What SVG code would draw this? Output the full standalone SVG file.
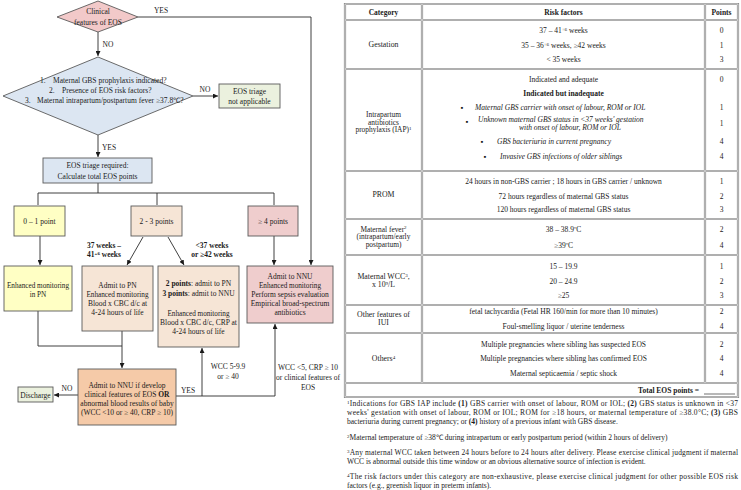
<svg xmlns="http://www.w3.org/2000/svg" xmlns:xlink="http://www.w3.org/1999/xlink" width="741" height="490" viewBox="0 0 741 490">
<style>
.t{font-family:"Liberation Serif","Times New Roman",serif;font-size:7.5px;fill:#1a1a1a;text-anchor:middle}
.s{text-anchor:start}
.e{text-anchor:end}
.b{font-weight:bold}
.i{font-style:italic}
.c{font-size:7.8px}
.c2{font-size:7.4px}
.n7{font-size:7.2px}
.nd{stroke:#5a5a5a;stroke-width:0.9}
.pink{fill:#f2c9c9}
.blue{fill:#dce6f2}
.green{fill:#ebf1de}
.yel{fill:#ffffc4}
.peach{fill:#f6e5d6}
.rose{fill:#efcdcd}
.tan{fill:#f5caa8}
.ln{stroke:#2a2a2a;stroke-width:0.9;fill:none}
.g1{stroke:#8e8e8e;stroke-width:2.2;fill:none}
.g2{stroke:#ffffff;stroke-width:0.6;fill:none}
</style>
<defs>
<marker id="ah" viewBox="0 0 6 6" refX="6" refY="3" markerWidth="5" markerHeight="5" orient="auto" markerUnits="userSpaceOnUse"><path d="M0,0 L6,3 L0,6 z" fill="#1a1a1a"/></marker>
<path id="grid" d="M345,4 H738 V397 H345 Z M345,20 H738 M345,69 H738 M345,171 H738 M345,219 H738 M345,255 H738 M345,305 H738 M345,333 H738 M345,383 H738 M422,4 V383 M705,4 V383"/>
</defs>
<rect width="741" height="490" fill="#ffffff"/>

<g id="connectors">
<path class="ln" d="M138,17 H311 V265" marker-end="url(#ah)"/>
<path class="ln" d="M98,32 V56" marker-end="url(#ah)"/>
<path class="ln" d="M193,96 H218" marker-end="url(#ah)"/>
<path class="ln" d="M98,135 V157" marker-end="url(#ah)"/>
<path class="ln" d="M98,183 V193 M38,205 V193 H274 V205 M157,193 V205"/>
<path class="ln" d="M40,236 V265" marker-end="url(#ah)"/>
<path class="ln" d="M143,237 L127,265" marker-end="url(#ah)"/>
<path class="ln" d="M168,237 L184,265" marker-end="url(#ah)"/>
<path class="ln" d="M274,236 V265" marker-end="url(#ah)"/>
<path class="ln" d="M38,311 V346 H122"/>
<path class="ln" d="M122,331 V368" marker-end="url(#ah)"/>
<path class="ln" d="M78,395 H54" marker-end="url(#ah)"/>
<path class="ln" d="M176,396 H275"/>
<path class="ln" d="M202,396 V348" marker-end="url(#ah)"/>
<path class="ln" d="M275,396 V324" marker-end="url(#ah)"/>
</g>

<g id="connector-labels">
<text class="t" x="161" y="13">YES</text>
<text class="t" x="108" y="47">NO</text>
<text class="t" x="205" y="92">NO</text>
<text class="t" x="109" y="150">YES</text>
<text class="t b" x="104" y="248">37 weeks –</text>
<text class="t b" x="104" y="257">41<tspan font-size="5" dy="-2.5">+6</tspan><tspan dy="2.5"> weeks</tspan></text>
<text class="t b" x="212" y="248">&lt;37 weeks</text>
<text class="t b" x="212" y="257">or ≥42 weeks</text>
<text class="t" x="67" y="391">NO</text>
<text class="t" x="188" y="393">YES</text>
<text class="t" x="228" y="369">WCC 5-9.9</text>
<text class="t" x="228" y="379">or ≥ 40</text>
<text class="t" x="308" y="370">WCC &lt;5, CRP ≥ 10</text>
<text class="t" x="308" y="380">or clinical features of</text>
<text class="t" x="308" y="390">EOS</text>
</g>

<g id="n-clinical">
<polygon class="nd pink" points="98,1 138,17 98,32 57,17"/>
<text class="t" x="98" y="14">Clinical</text>
<text class="t" x="98" y="25">features of EOS</text>
</g>

<g id="n-question">
<polygon class="nd blue" points="98,57 193,96 98,135 3,96"/>
<text class="t s" x="40" y="83">1.<tspan x="53">Maternal GBS prophylaxis indicated?</tspan></text>
<text class="t s" x="49" y="93">2.<tspan x="62">Presence of EOS risk factors?</tspan></text>
<text class="t s" x="25" y="103">3.<tspan x="37">Maternal intrapartum/postpartum fever ≥37.8℃?</tspan></text>
</g>

<g id="n-notapplicable">
<rect class="nd green" x="219" y="84" width="61" height="24"/>
<text class="t" x="249.5" y="94">EOS triage</text>
<text class="t" x="249.5" y="104">not applicable</text>
</g>

<g id="n-triage">
<rect class="nd blue" x="43" y="158" width="109" height="25"/>
<text class="t" x="97.5" y="168">EOS triage required:</text>
<text class="t" x="97.5" y="179">Calculate total EOS points</text>
</g>

<g id="n-p01">
<rect class="nd yel" x="14" y="206" width="51" height="30"/>
<text class="t" x="39.5" y="224">0 – 1 point</text>
</g>

<g id="n-p23">
<rect class="nd peach" x="131" y="206" width="51" height="30"/>
<text class="t" x="156.5" y="224">2 - 3 points</text>
</g>

<g id="n-p4">
<rect class="nd rose" x="248" y="206" width="50" height="30"/>
<text class="t" x="273" y="224">≥ 4 points</text>
</g>

<g id="n-pn">
<rect class="nd yel" x="4" y="266" width="68" height="45"/>
<text class="t n7" x="38" y="288">Enhanced monitoring</text>
<text class="t n7" x="38" y="297">in PN</text>
</g>

<g id="n-admitpn">
<rect class="nd peach" x="82" y="266" width="71" height="65"/>
<text class="t" x="117.5" y="288">Admit to PN</text>
<text class="t n7" x="117.5" y="297">Enhanced monitoring</text>
<text class="t" x="117.5" y="306">Blood x CBC d/c at</text>
<text class="t" x="117.5" y="315">4-24 hours of life</text>
</g>

<g id="n-points">
<rect class="nd peach" x="158" y="266" width="81" height="81"/>
<text class="t" x="198.5" y="286"><tspan class="b">2 points</tspan>:  admit to PN</text>
<text class="t" x="198.5" y="296"><tspan class="b">3 points</tspan>:  admit to NNU</text>
<text class="t n7" x="198.5" y="316">Enhanced monitoring</text>
<text class="t" x="198.5" y="325">Blood x CBC d/c, CRP at</text>
<text class="t" x="198.5" y="334">4-24 hours of life</text>
</g>

<g id="n-nnu">
<rect class="nd rose" x="247" y="266" width="86" height="57"/>
<text class="t" x="290" y="279">Admit to NNU</text>
<text class="t n7" x="290" y="288">Enhanced monitoring</text>
<text class="t" x="290" y="297">Perform sepsis evaluation</text>
<text class="t" x="290" y="306">Empirical broad-spectrum</text>
<text class="t" x="290" y="315">antibiotics</text>
</g>

<g id="n-admitif">
<rect class="nd tan" x="78" y="369" width="98" height="56"/>
<text class="t" x="127" y="388">Admit to NNU if develop</text>
<text class="t" x="127" y="397">clinical features of EOS <tspan class="b">OR</tspan></text>
<text class="t" x="127" y="406">abnormal blood results of baby</text>
<text class="t" x="127" y="415">(WCC &lt;10 or ≥ 40, CRP ≥ 10)</text>
</g>

<g id="n-discharge">
<rect class="nd green" x="18" y="387" width="35" height="15"/>
<text class="t" x="35.5" y="397.5">Discharge</text>
</g>

<g id="risk-table">
<use xlink:href="#grid" class="g1"/>
<use xlink:href="#grid" class="g2"/>
<text class="t b" x="383.5" y="15">Category</text>
<text class="t b" x="563.5" y="15">Risk factors</text>
<text class="t b" x="721.5" y="15">Points</text>

<text class="t c" x="383.5" y="47">Gestation</text>
<text class="t" x="563.5" y="33">37 – 41<tspan font-size="5" dy="-2.5">+6</tspan><tspan dy="2.5"> weeks</tspan></text>
<text class="t" x="563.5" y="48">35 – 36<tspan font-size="5" dy="-2.5">+6</tspan><tspan dy="2.5"> weeks, ≥42 weeks</tspan></text>
<text class="t" x="563.5" y="62">&lt; 35 weeks</text>
<text class="t" x="721.5" y="33">0</text>
<text class="t" x="721.5" y="48">1</text>
<text class="t" x="721.5" y="62">3</text>

<text class="t c2" x="383.5" y="117">Intrapartum</text>
<text class="t c2" x="383.5" y="124.5">antibiotics</text>
<text class="t c2" x="383.5" y="132">prophylaxis (IAP)<tspan font-size="5" dy="-2.5">1</tspan></text>
<text class="t" x="563.5" y="82">Indicated and adequate</text>
<text class="t b" x="563.5" y="96">Indicated but inadequate</text>
<text class="t" x="462" y="110">▪</text>
<text class="t i s" x="475" y="110">Maternal GBS carrier with onset of labour, ROM or IOL</text>
<text class="t" x="467" y="124">▪</text>
<text class="t i s" x="478" y="122">Unknown maternal GBS status in &lt;37 weeks' gestation</text>
<text class="t i" x="570" y="130">with onset of labour, ROM or IOL</text>
<text class="t" x="482" y="144">▪</text>
<text class="t i s" x="497" y="144">GBS bacteriuria in current pregnancy</text>
<text class="t" x="485" y="159">▪</text>
<text class="t i s" x="500" y="159">Invasive GBS infections of older siblings</text>
<text class="t" x="721.5" y="82">0</text>
<text class="t" x="721.5" y="110">1</text>
<text class="t" x="721.5" y="126">1</text>
<text class="t" x="721.5" y="144">4</text>
<text class="t" x="721.5" y="159">4</text>

<text class="t c" x="383.5" y="197">PROM</text>
<text class="t" x="563.5" y="184">24 hours in non-GBS carrier ; 18 hours in GBS carrier / unknown</text>
<text class="t" x="563.5" y="199">72 hours regardless of maternal GBS status</text>
<text class="t" x="563.5" y="212">120 hours regardless of maternal GBS status</text>
<text class="t" x="721.5" y="184">1</text>
<text class="t" x="721.5" y="199">2</text>
<text class="t" x="721.5" y="212">3</text>

<text class="t c2" x="383.5" y="231.5">Maternal fever<tspan font-size="5" dy="-2.5">2</tspan></text>
<text class="t c2" x="383.5" y="239">(intrapartum/early</text>
<text class="t c2" x="383.5" y="246.5">postpartum)</text>
<text class="t" x="563.5" y="232">38 – 38.9ºC</text>
<text class="t" x="563.5" y="248">≥39ºC</text>
<text class="t" x="721.5" y="232">2</text>
<text class="t" x="721.5" y="248">4</text>

<text class="t c" x="383.5" y="279">Maternal WCC<tspan font-size="5" dy="-2.5">3</tspan><tspan dy="2.5">,</tspan></text>
<text class="t c" x="383.5" y="287">x 10<tspan font-size="5" dy="-2.5">9</tspan><tspan dy="2.5">/L</tspan></text>
<text class="t" x="563.5" y="269">15 – 19.9</text>
<text class="t" x="563.5" y="284">20 – 24.9</text>
<text class="t" x="563.5" y="298">≥25</text>
<text class="t" x="721.5" y="269">1</text>
<text class="t" x="721.5" y="284">2</text>
<text class="t" x="721.5" y="298">3</text>

<text class="t c" x="383.5" y="317">Other features of</text>
<text class="t c" x="383.5" y="324.5">IUI</text>
<text class="t" x="563.5" y="314">fetal tachycardia (Fetal HR 160/min for more than 10 minutes)</text>
<text class="t" x="563.5" y="329">Foul-smelling liquor / uterine tenderness</text>
<text class="t" x="721.5" y="314">2</text>
<text class="t" x="721.5" y="329">4</text>

<text class="t c" x="383.5" y="361">Others<tspan font-size="5" dy="-2.5">4</tspan></text>
<text class="t" x="563.5" y="347">Multiple pregnancies where sibling has suspected EOS</text>
<text class="t" x="563.5" y="361">Multiple pregnancies where sibling has confirmed EOS</text>
<text class="t" x="563.5" y="376">Maternal septicaemia / septic shock</text>
<text class="t" x="721.5" y="347">2</text>
<text class="t" x="721.5" y="361">4</text>
<text class="t" x="721.5" y="376">4</text>

<text class="t b e" x="699" y="393">Total EOS points =</text>
<line x1="704" y1="394" x2="735" y2="394" stroke="#333" stroke-width="0.7"/>
</g>

<g id="footnotes">
<text class="t s" x="347" y="406" textLength="391" lengthAdjust="spacing"><tspan font-size="5" dy="-2.5">1</tspan><tspan dy="2.5">Indications for GBS IAP include </tspan><tspan class="b">(1)</tspan> GBS carrier with onset of labour, ROM or IOL; <tspan class="b">(2)</tspan> GBS status is unknown in &lt;37</text>
<text class="t s" x="347" y="415" textLength="391" lengthAdjust="spacing">weeks' gestation with onset of labour, ROM or IOL; ROM for ≥18 hours, or maternal temperature of ≥38.0°C; <tspan class="b">(3)</tspan> GBS</text>
<text class="t s" x="347" y="424">bacteriuria during current pregnancy; or <tspan class="b">(4)</tspan> history of a previous infant with GBS disease.</text>
<text class="t s" x="347" y="440"><tspan font-size="5" dy="-2.5">2</tspan><tspan dy="2.5">Maternal temperature of ≥38℃ during intrapartum or early postpartum period (within 2 hours of delivery)</tspan></text>
<text class="t s" x="347" y="455" textLength="391" lengthAdjust="spacing"><tspan font-size="5" dy="-2.5">3</tspan><tspan dy="2.5">Any maternal WCC taken between 24 hours before to 24 hours after delivery. Please exercise clinical judgment if maternal</tspan></text>
<text class="t s" x="347" y="464">WCC is abnormal outside this time window or an obvious alternative source of infection is evident.</text>
<text class="t s" x="347" y="479" textLength="391" lengthAdjust="spacing"><tspan font-size="5" dy="-2.5">4</tspan><tspan dy="2.5">The risk factors under this category are non-exhaustive, please exercise clinical judgment for other possible EOS risk</tspan></text>
<text class="t s" x="347" y="488">factors (e.g., greenish liquor in preterm infants).</text>
</g>
</svg>
